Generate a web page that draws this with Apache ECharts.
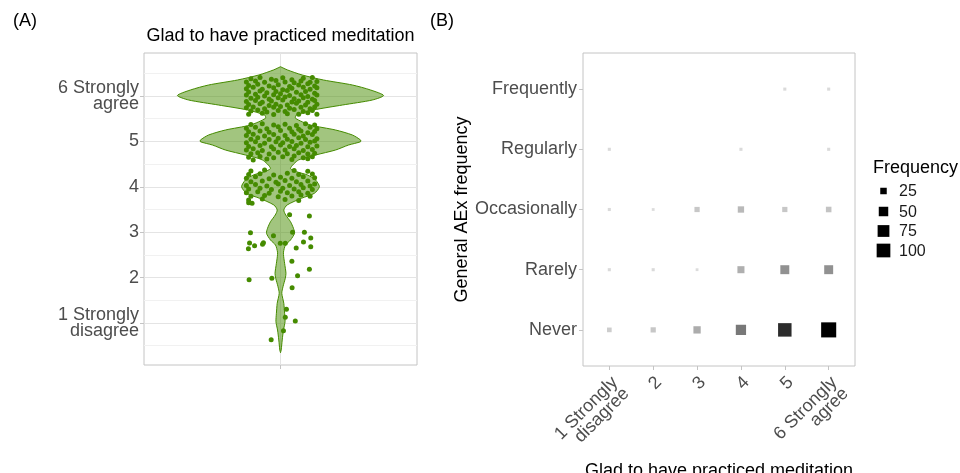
<!DOCTYPE html>
<html>
<head>
<meta charset="utf-8">
<script src="https://cdn.jsdelivr.net/npm/echarts@6.0.0/dist/echarts.min.js"></script>
<style>
html,body{margin:0;padding:0;background:#fff;}
#chart{width:960px;height:473px;}
</style>
</head>
<body>
<div id="chart"></div>
<script>
// ---------- Panel A data ----------
const levelLabels = ['1 Strongly\ndisagree', '2', '3', '4', '5', '6 Strongly\nagree'];
const levelValues = [1, 2, 3, 4, 5, 6];

// violin outline: y value and half width (x units)
const violinY = [0.346, 0.405, 0.626, 0.846, 1.029, 1.214, 1.434, 1.654, 1.80, 1.985, 2.095, 2.315, 2.46, 2.56, 2.718, 2.828, 2.976, 3.086, 3.231, 3.379, 3.489, 3.599, 3.747, 3.857, 4.002, 4.15, 4.26, 4.333, 4.407, 4.59, 4.70, 4.81, 4.92, 4.993, 5.03, 5.141, 5.251, 5.361, 5.509, 5.581, 5.692, 5.802, 5.912, 6.011, 6.132, 6.242, 6.352, 6.463, 6.573, 6.645];
const violinHalfWidth = [0, 0.003, 0.0075, 0.013, 0.020, 0.018, 0.0145, 0.0057, 0.011, 0.021, 0.024, 0.018, 0.014, 0.013, 0.022, 0.044, 0.0615, 0.057, 0.044, 0.023, 0.0145, 0.029, 0.092, 0.149, 0.171, 0.154, 0.119, 0.070, 0.044, 0.079, 0.154, 0.242, 0.299, 0.352, 0.352, 0.316, 0.242, 0.132, 0.066, 0.070, 0.145, 0.273, 0.404, 0.453, 0.396, 0.316, 0.189, 0.095, 0.031, 0];

// jittered responses [x, y]
const pointsLevel6 = [
[0.87,6.38],[0.91,6.41],[0.96,6.37],[1.01,6.40],[1.05,6.36],[1.10,6.39],[1.14,6.41],
[0.85,6.31],[0.89,6.33],[0.93,6.30],[0.98,6.34],[1.02,6.31],[1.06,6.29],[1.09,6.33],[1.13,6.30],[1.16,6.32],
[0.86,6.23],[0.90,6.26],[0.95,6.22],[0.99,6.25],[1.04,6.21],[1.08,6.24],[1.12,6.27],[1.15,6.22],
[0.85,6.16],[0.88,6.19],[0.92,6.15],[0.97,6.18],[1.01,6.14],[1.05,6.17],[1.10,6.19],[1.13,6.15],[1.16,6.18],
[0.86,6.09],[0.91,6.11],[0.94,6.07],[0.98,6.10],[1.03,6.12],[1.07,6.08],[1.11,6.10],[1.15,6.06],
[0.85,6.02],[0.89,6.04],[0.93,6.00],[0.97,6.03],[1.00,6.05],[1.04,6.01],[1.09,6.03],[1.12,5.99],[1.16,6.02],
[0.87,5.95],[0.90,5.97],[0.95,5.93],[0.99,5.96],[1.02,5.98],[1.06,5.94],[1.10,5.96],[1.14,5.93],
[0.85,5.88],[0.89,5.90],[0.92,5.86],[0.96,5.89],[1.01,5.91],[1.05,5.87],[1.08,5.89],[1.12,5.86],[1.15,5.90],
[0.86,5.81],[0.91,5.83],[0.95,5.79],[0.98,5.82],[1.03,5.80],[1.07,5.84],[1.11,5.80],[1.16,5.82],
[0.85,5.74],[0.88,5.76],[0.93,5.72],[0.97,5.75],[1.00,5.77],[1.04,5.73],[1.09,5.75],[1.13,5.72],[1.15,5.76],
[0.87,5.67],[0.90,5.69],[0.94,5.65],[0.99,5.68],[1.02,5.66],[1.06,5.70],[1.10,5.66],[1.14,5.68],
[0.86,5.60],[0.92,5.62],[0.97,5.59],[1.03,5.61],[1.08,5.60],[1.12,5.63],[1.16,5.60]
];
const pointsLevel5 = [
[0.87,5.37],[0.92,5.39],[0.97,5.36],[1.02,5.38],[1.07,5.35],[1.11,5.39],[1.15,5.36],
[0.85,5.29],[0.89,5.31],[0.94,5.28],[0.99,5.32],[1.04,5.29],[1.08,5.27],[1.13,5.31],[1.16,5.28],
[0.86,5.21],[0.91,5.23],[0.95,5.20],[1.00,5.24],[1.05,5.21],[1.09,5.23],[1.12,5.19],[1.15,5.22],
[0.85,5.13],[0.88,5.16],[0.93,5.12],[0.97,5.15],[1.02,5.13],[1.06,5.16],[1.10,5.12],[1.14,5.15],
[0.87,5.05],[0.90,5.08],[0.95,5.04],[0.99,5.07],[1.03,5.05],[1.08,5.08],[1.11,5.04],[1.16,5.06],
[0.85,4.97],[0.89,4.99],[0.93,4.96],[0.98,4.99],[1.01,4.97],[1.05,5.00],[1.09,4.96],[1.13,4.98],[1.15,5.01],
[0.86,4.89],[0.91,4.91],[0.96,4.88],[1.00,4.92],[1.04,4.89],[1.07,4.91],[1.12,4.88],[1.16,4.90],
[0.85,4.81],[0.88,4.84],[0.92,4.80],[0.97,4.83],[1.02,4.81],[1.06,4.84],[1.10,4.80],[1.14,4.82],
[0.87,4.73],[0.90,4.75],[0.95,4.72],[0.99,4.76],[1.03,4.73],[1.08,4.75],[1.12,4.72],[1.15,4.74],
[0.86,4.65],[0.91,4.67],[0.97,4.64],[1.01,4.66],[1.06,4.68],[1.10,4.64],[1.14,4.66],
[0.88,4.59],[0.94,4.61],[1.05,4.60],[1.12,4.62]
];
const pointsLevel4 = [
[0.87,4.35],[0.93,4.37],[1.06,4.36],[1.12,4.34],
[0.86,4.27],[0.91,4.29],[0.97,4.26],[1.03,4.30],[1.08,4.27],[1.14,4.28],
[0.85,4.19],[0.89,4.22],[0.95,4.18],[1.00,4.21],[1.05,4.19],[1.10,4.22],[1.15,4.20],
[0.87,4.11],[0.92,4.13],[0.98,4.10],[1.02,4.14],[1.07,4.11],[1.12,4.13],
[0.85,4.03],[0.89,4.05],[0.94,4.02],[0.99,4.06],[1.04,4.03],[1.09,4.05],[1.13,4.02],[1.15,4.06],
[0.86,3.95],[0.91,3.97],[0.96,3.94],[1.01,3.97],[1.06,3.95],[1.10,3.98],[1.14,3.94],
[0.85,3.87],[0.90,3.89],[0.95,3.86],[1.00,3.90],[1.03,3.87],[1.08,3.89],[1.12,3.86],
[0.87,3.79],[0.93,3.81],[0.99,3.78],[1.05,3.80],[1.09,3.82],[1.13,3.79],
[0.86,3.71],[0.92,3.73],[1.02,3.72],[1.08,3.70],
[0.86,3.65],[0.875,3.64]
];
const pointsLevel3 = [[1.040,3.385],[1.127,3.357],[0.868,2.99],[0.969,2.923],[1.053,2.998],[1.105,2.998],[0.864,2.762],[0.886,2.703],[0.925,2.769],[0.921,2.733],[0.859,2.637],[0.999,2.756],[1.021,2.756],[1.069,2.652],[1.101,2.784],[1.133,2.872],[1.133,2.68]];
const pointsLevel2 = [[1.050,2.359],[1.127,2.183],[1.075,2.042],[0.862,1.954],[0.962,1.985],[1.051,1.778]];
const pointsLevel1 = [[1.026,1.302],[1.021,1.126],[1.065,1.044],[1.013,0.830],[0.959,0.632]];

const majorGridY = [1, 2, 3, 4, 5, 6];
const minorGridY = [0.5, 1.5, 2.5, 3.5, 4.5, 5.5, 6.5];

// ---------- Panel B data ----------
const agreeCategories = ['1 Strongly\ndisagree', '2', '3', '4', '5', '6 Strongly\nagree'];
const freqCategories = ['Never', 'Rarely', 'Occasionally', 'Regularly', 'Frequently'];
const neverCounts        = [14, 17, 31, 58, 97, 120];
const rarelyCounts       = [7, 7, 6, 29, 45, 45];
const occasionallyCounts = [7, 6, 17, 24, 17, 19];
const regularlyCounts    = [7, 0, 0, 7, 0, 7];
const frequentlyCounts   = [0, 0, 0, 0, 7, 7];
const legendBreaks = [25, 50, 75, 100];

// ---------- build ----------
const FONT = 'Liberation Sans, Arial, Helvetica, sans-serif';
const GREEN = '#458B00';
const countRows = [neverCounts, rarelyCounts, occasionallyCounts, regularlyCounts, frequentlyCounts];
const maxCount = Math.max(...countRows.flat());
function sizeFor(n) { return 1.44 * Math.sqrt(n) - 0.7; }
function alphaFor(n) { return 0.1 + 0.9 * (n - 1) / (maxCount - 1); }

const heatData = [];
countRows.forEach((row, r) => {
  row.forEach((n, c) => {
    if (n > 0) heatData.push({ value: [c + 1, r + 1, n], itemStyle: { color: 'rgba(0,0,0,' + alphaFor(n).toFixed(3) + ')', opacity: 1 } });
  });
});

const allPoints = [].concat(pointsLevel6, pointsLevel5, pointsLevel4, pointsLevel3, pointsLevel2, pointsLevel1);

const axisTextA = { fontFamily: FONT, fontSize: 18, color: '#4d4d4d' };

const legendX = 873, legendTop = 167;
const legendRowY = [191, 211.5, 231, 250.5];
const legendGraphics = [
  { type: 'text', left: legendX, top: legendTop - 8, style: { text: 'Frequency', font: '18px ' + FONT, fill: '#000' } }
];
legendBreaks.forEach((b, i) => {
  const s = sizeFor(b);
  legendGraphics.push({ type: 'rect', shape: { x: 883.5 - s / 2, y: legendRowY[i] - s / 2, width: s, height: s }, style: { fill: '#000' } });
  legendGraphics.push({ type: 'text', x: 899, y: legendRowY[i] + 1, style: { text: String(b), font: '16px ' + FONT, fill: '#1a1a1a', verticalAlign: 'middle' } });
});

const chart = echarts.init(document.getElementById('chart'), null, { renderer: 'canvas' });
chart.setOption({
  animation: false,
  backgroundColor: '#fff',
  title: [
    { text: '(A)', left: 13, top: 12, padding: 0, textStyle: { fontFamily: FONT, fontSize: 18, fontWeight: 'normal', color: '#000' } },
    { text: 'Glad to have practiced meditation', left: 280.5, top: 27, padding: 0, textAlign: 'center', textStyle: { fontFamily: FONT, fontSize: 18, fontWeight: 'normal', color: '#000' } },
    { text: '(B)', left: 430, top: 12, padding: 0, textStyle: { fontFamily: FONT, fontSize: 18, fontWeight: 'normal', color: '#000' } }
  ],
  grid: [
    { left: 144, top: 53, width: 273, height: 312, show: true, borderColor: '#c4c4c4', borderWidth: 1, backgroundColor: 'transparent', outerBoundsMode: 'none', containLabel: false },
    { left: 583, top: 53, width: 272, height: 313, show: true, borderColor: '#c4c4c4', borderWidth: 1, backgroundColor: 'transparent', outerBoundsMode: 'none', containLabel: false }
  ],
  xAxis: [
    { gridIndex: 0, type: 'value', min: 0.4, max: 1.6,
      axisLine: { show: false }, splitLine: { show: false },
      axisTick: { show: true, customValues: [1], length: 4, lineStyle: { color: '#c4c4c4' } },
      axisLabel: { show: false } },
    { gridIndex: 1, type: 'value', min: 0.4, max: 6.6,
      axisLine: { show: false }, splitLine: { show: false },
      axisTick: { show: true, customValues: levelValues, length: 4, lineStyle: { color: '#c4c4c4' } },
      axisLabel: { customValues: levelValues, formatter: v => agreeCategories[Math.round(v) - 1],
        rotate: 45, align: 'right', verticalAlign: 'top', margin: 8, lineHeight: 16,
        fontFamily: FONT, fontSize: 18, color: '#4d4d4d' },
      name: 'Glad to have practiced meditation', nameLocation: 'middle', nameGap: 89,
      nameTextStyle: { fontFamily: FONT, fontSize: 18, color: '#000' } }
  ],
  yAxis: [
    { gridIndex: 0, type: 'value', min: 0.075, max: 6.947,
      axisLine: { show: false }, splitLine: { show: false },
      axisTick: { show: true, customValues: levelValues, length: 4, lineStyle: { color: '#c4c4c4' } },
      axisLabel: Object.assign({ customValues: levelValues, formatter: v => levelLabels[Math.round(v) - 1], margin: 5, lineHeight: 16, padding: [3, 0, 0, 0] }, axisTextA) },
    { gridIndex: 1, type: 'value', min: 0.4, max: 5.6,
      axisLine: { show: false }, splitLine: { show: false },
      axisTick: { show: true, customValues: [1, 2, 3, 4, 5], length: 4, lineStyle: { color: '#c4c4c4' } },
      axisLabel: Object.assign({ customValues: [1, 2, 3, 4, 5], formatter: v => freqCategories[Math.round(v) - 1], margin: 6, padding: [3, 0, 0, 0] }, axisTextA),
      name: 'General AEx frequency', nameLocation: 'middle', nameGap: 112, nameRotate: 90,
      nameTextStyle: { fontFamily: FONT, fontSize: 18, color: '#000' } }
  ],
  graphic: legendGraphics,
  series: [
    { type: 'line', xAxisIndex: 0, yAxisIndex: 0, data: [], silent: true,
      markLine: { silent: true, symbol: 'none', z: 1, label: { show: false },
        data: [].concat(
          minorGridY.map(v => ({ yAxis: v, lineStyle: { color: '#f1f1f1', width: 1, type: 'solid' } })),
          majorGridY.map(v => ({ yAxis: v, lineStyle: { color: '#e4e4e4', width: 1, type: 'solid' } })),
          [{ xAxis: 1, lineStyle: { color: '#e4e4e4', width: 1, type: 'solid' } }]
        ) } },
    { type: 'custom', xAxisIndex: 0, yAxisIndex: 0, z: 2, silent: true,
      data: [[1, 3]],
      encode: { x: 0, y: 1 },
      renderItem: function (params, api) {
        const cx = api.value(0);
        const pts = [];
        for (let i = 0; i < violinY.length; i++) pts.push(api.coord([cx + violinHalfWidth[i], violinY[i]]));
        for (let i = violinY.length - 1; i >= 0; i--) pts.push(api.coord([cx - violinHalfWidth[i], violinY[i]]));
        return { type: 'polygon', shape: { points: pts, smooth: 0.25 },
          style: { fill: 'rgba(69,139,0,0.5)', stroke: GREEN, lineWidth: 1 } };
      } },
    { type: 'scatter', xAxisIndex: 0, yAxisIndex: 0, z: 3, silent: true,
      symbol: 'circle', symbolSize: 5, itemStyle: { color: GREEN, opacity: 1 },
      data: allPoints },
    { type: 'scatter', xAxisIndex: 1, yAxisIndex: 1, z: 3, silent: true,
      symbol: 'rect', symbolSize: v => sizeFor(v[2]), itemStyle: { opacity: 1 },
      data: heatData }
  ]
});
</script>
</body>
</html>
